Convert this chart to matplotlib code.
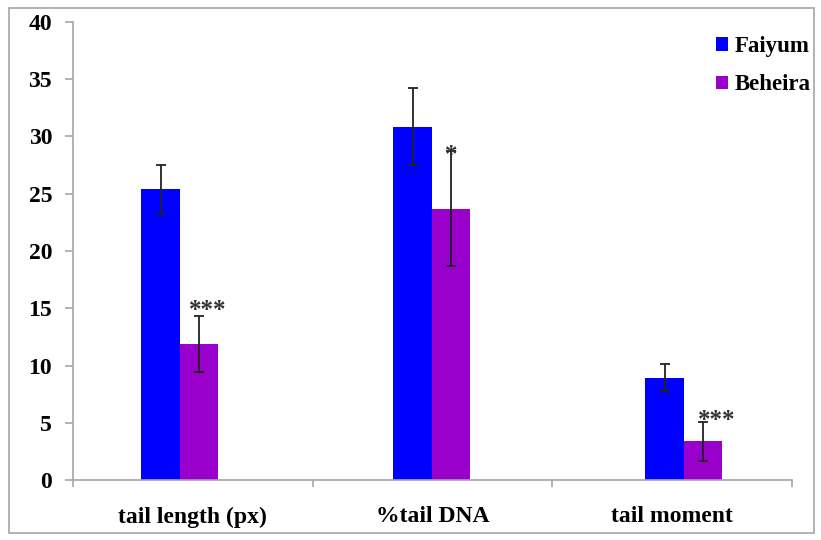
import matplotlib
matplotlib.use("Agg")
import matplotlib.pyplot as plt
import numpy as np
from matplotlib.patches import Rectangle

categories = ["tail length (px)", "%tail DNA", "tail moment"]
series_names = ["Faiyum", "Beheira"]
faiyum = [25.4, 30.85, 8.95]
faiyum_err = [2.15, 3.35, 1.15]
beheira = [11.9, 23.7, 3.4]
beheira_err = [2.45, 5.0, 1.7]
sig_labels = ["***", "*", "***"]
sig_y = [14.2, 27.8, 4.6]
yticks = [0, 5, 10, 15, 20, 25, 30, 35, 40]

colors = ["#0000ff", "#9900cc"]
serif = ["Liberation Serif", "DejaVu Serif"]

fig = plt.figure(figsize=(8.21, 5.40), dpi=100)
fig.patches.append(Rectangle((9/821, 7/540), 805/821, 525/540, transform=fig.transFigure,
                             fill=False, edgecolor="#a6a6a6", linewidth=1.2))
ax = fig.add_axes([73/821, 60/540, 719/821, 458/540])

x = np.arange(len(categories))
# group centres in the original are slightly spread relative to category ticks
gx = -0.054 + 1.0515 * x
w = 0.161
ekw = dict(ecolor="#222222", elinewidth=1.3, capthick=1.3)
ax.bar(gx - w/2, faiyum, w, color=colors[0], label=series_names[0],
       yerr=faiyum_err, capsize=3.5, error_kw=ekw)
ax.bar(gx + w/2, beheira, w, color=colors[1], label=series_names[1],
       yerr=beheira_err, capsize=3.5, error_kw=ekw)

offsets = [0.035, 0.0, 0.055]
for i, (lab, yy) in enumerate(zip(sig_labels, sig_y)):
    ax.text(gx[i] + w/2 + offsets[i], yy, lab, ha="center", va="baseline",
            fontsize=18, fontweight="bold", family=serif, color="#333333")

ax.set_xlim(-0.5, len(categories) - 0.5)
ax.set_ylim(0, 40)
ax.set_yticks(yticks)
ax.set_yticklabels([str(t) for t in yticks], fontsize=17, fontweight="bold", family=serif)
ax.set_xticks(x)
ax.set_xticklabels(categories, fontsize=17, fontweight="bold", family=serif)
ax.set_xticks(np.arange(-0.5, len(categories), 1.0), minor=True)
ax.tick_params(axis="x", which="major", length=0, pad=19)
ax.tick_params(axis="x", which="minor", length=5, color="#a6a6a6", direction="out", width=1.2)
ax.tick_params(axis="y", length=6, color="#a6a6a6", direction="out", pad=9, width=1.2)
for s in ["top", "right"]:
    ax.spines[s].set_visible(False)
for s in ["left", "bottom"]:
    ax.spines[s].set_color("#a6a6a6")
    ax.spines[s].set_linewidth(1.2)

leg = fig.legend(loc="upper left", bbox_to_anchor=(707/821, 1 - 27/540), frameon=False,
                 prop=dict(family=serif, weight="bold", size=16.5), handlelength=0.52,
                 handleheight=0.52, handletextpad=0.3, labelspacing=0.75, borderaxespad=0)

fig.savefig("out.png", dpi=100)
